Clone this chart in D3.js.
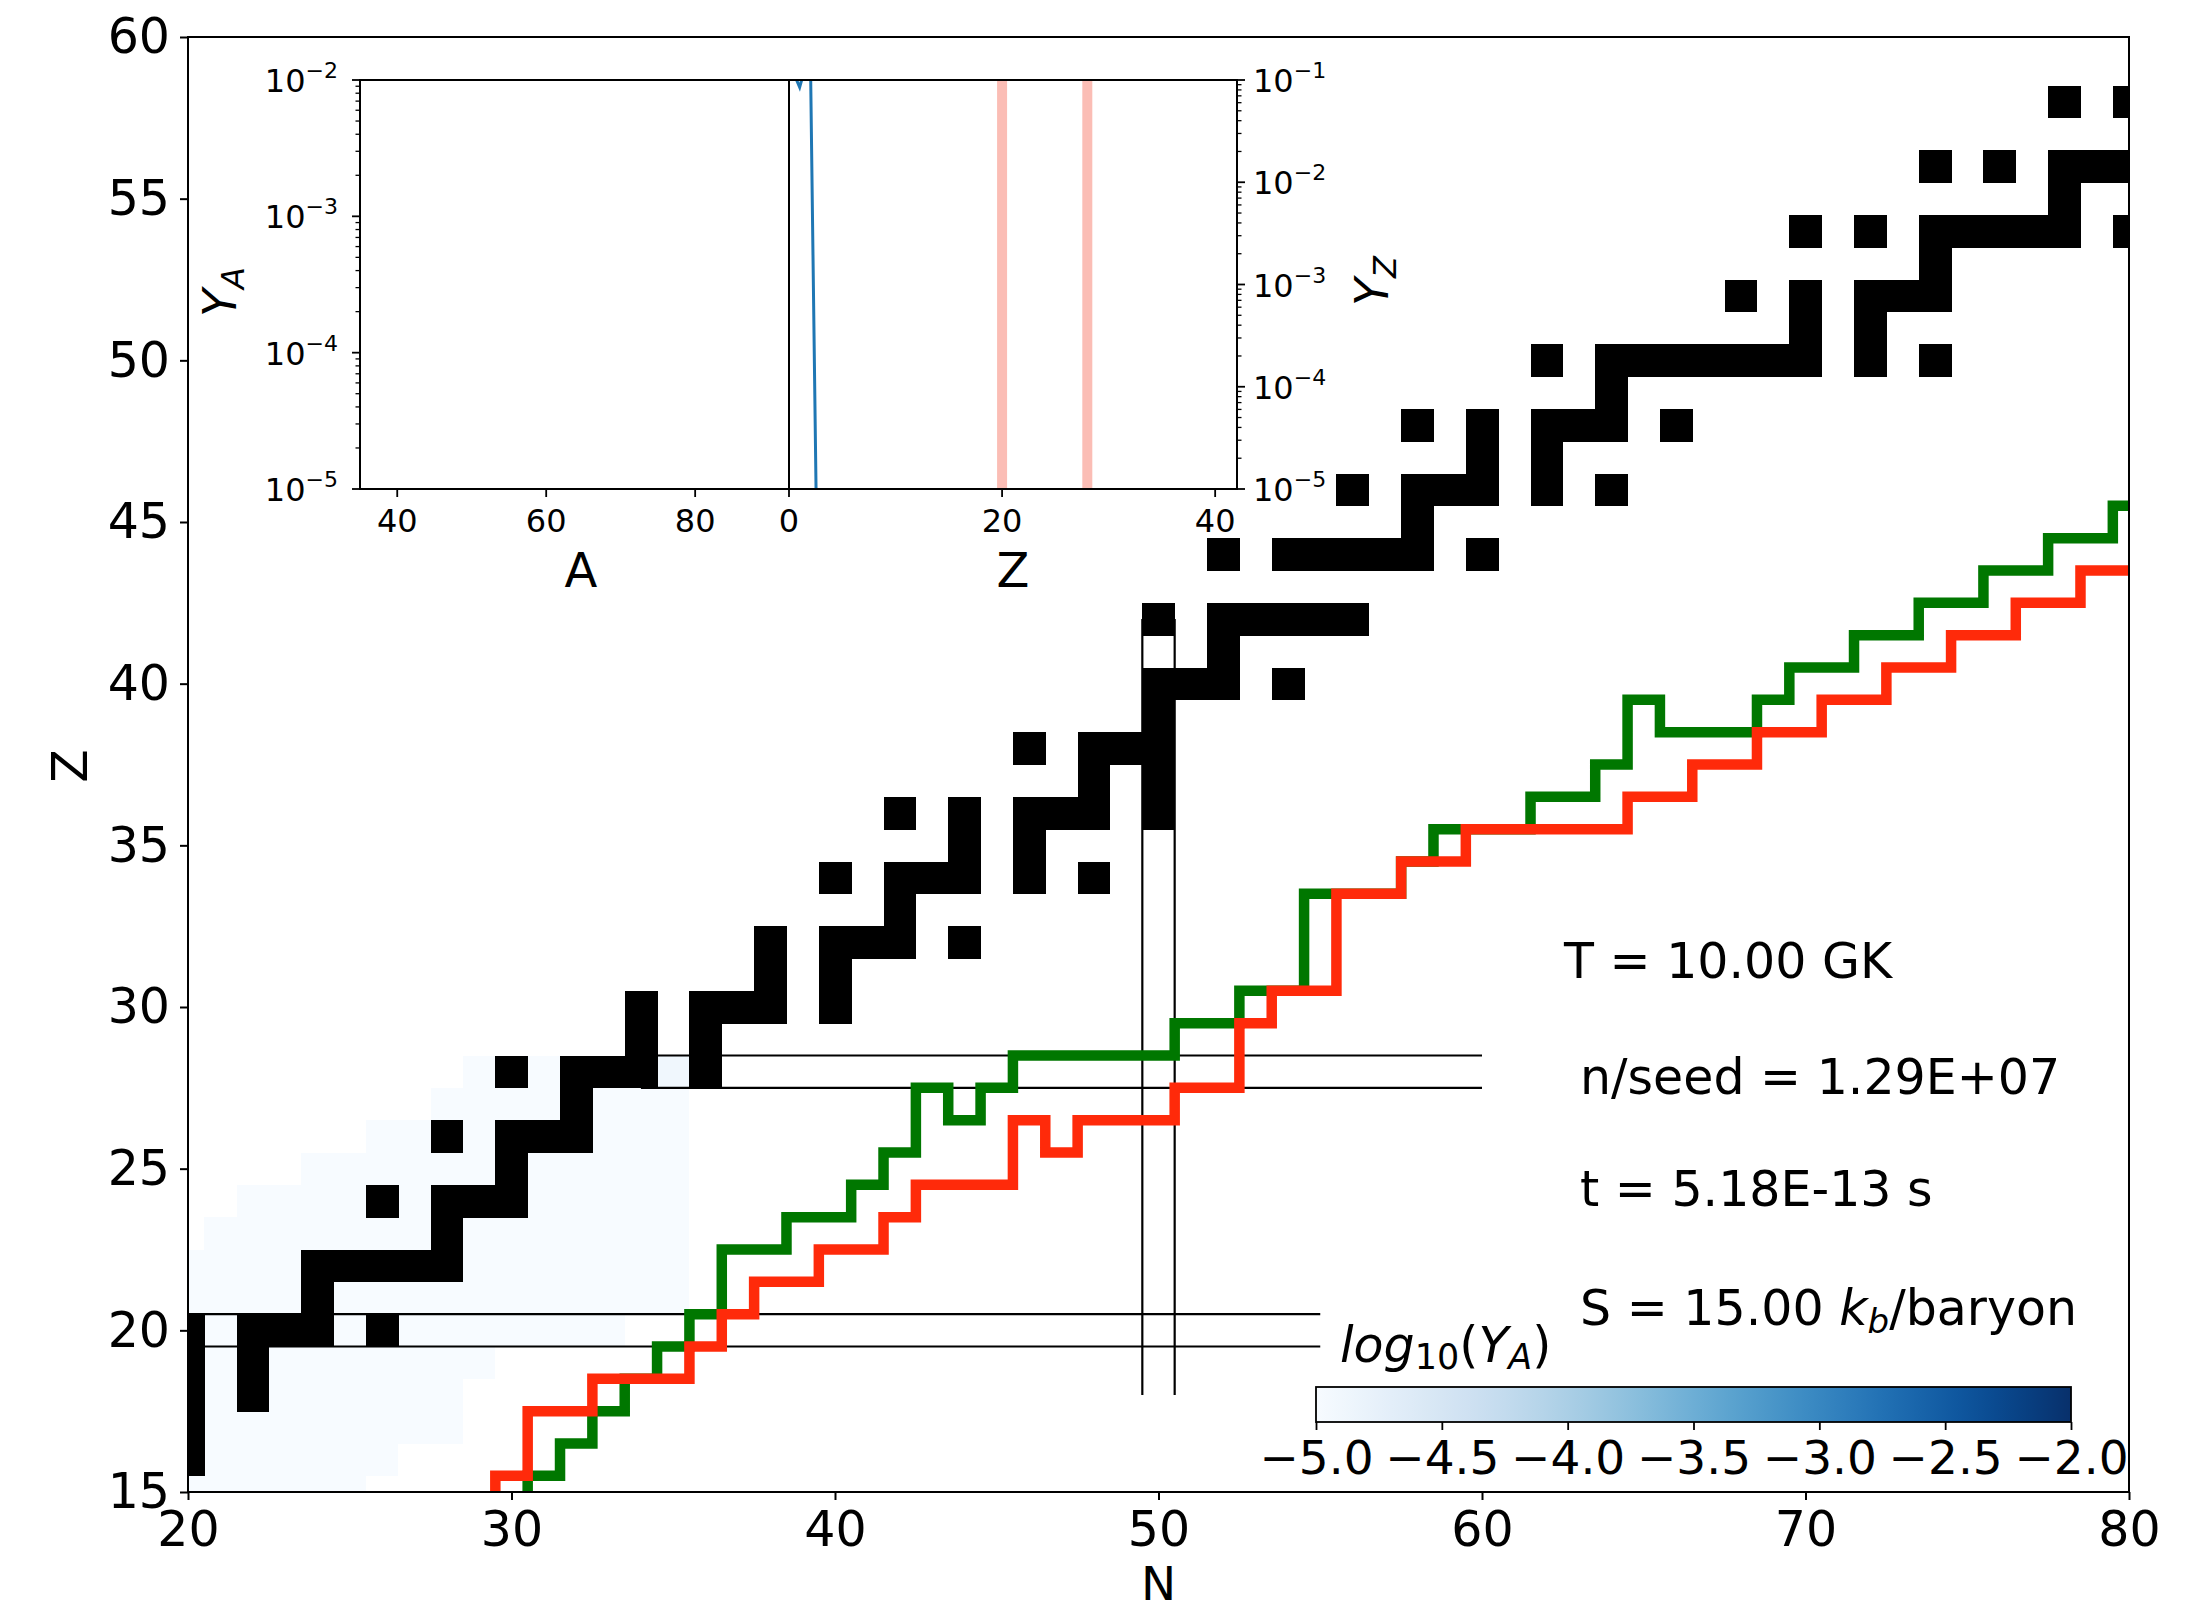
<!DOCTYPE html>
<html><head><meta charset="utf-8">
<script src="https://cdn.jsdelivr.net/npm/d3@7/dist/d3.min.js"></script>
<style>
body{margin:0;background:#fff}
svg{display:block}
text{font-family:"DejaVu Sans",sans-serif;fill:#000}
</style>
</head><body>
<svg id="c" width="2203" height="1612"></svg>
<script>
// ---------------- DATA ----------------
// stable nuclei (black squares): proton number Z and the neutron numbers N present
const stableZ = [16,17,18,19,20,21,22,23,24,25,26,27,28,29,30,31,32,33,34,35,36,37,38,39,40,41,42,44,45,46,47,48,49,50,51,52,53,54,55,56,58];
const stableN = [
  [20],[20],[20,22],[20,22],[20,22,23,24,26],[24],[24,25,26,27,28],[28],[26,28,29,30],[30],
  [28,30,31,32],[32],[30,32,33,34,36],[34,36],[34,36,37,38,40],[38,40],[38,40,41,42,44],[42],
  [40,42,43,44,46,48],[44,46],[42,44,46,47,48,50],[48,50],[46,48,49,50],[50],[50,51,52,54],[52],
  [50,52,53,54,55,56],[52,54,55,56,57,58,60],[58],[56,58,59,60,62,64],[60,62],[58,60,62,63,64,66],[64],
  [62,64,65,66,67,68,69,70,72,74],[70,72],[68,70,72,73,74],[74],[70,72,74,75,76,77,78,80],[78],
  [74,76,78,79,80],[78,80]
];
// faint abundance map log10(Y_A): rows of Z with N range
const heatZ  = [15,16,17,18,19,20,21,22,23,24,25,26,27,28,28];
const heatN0 = [20,20,20,20,20,20,20,20,21,22,24,26,28,29,35];
const heatN1 = [25,26,28,28,29,33,35,35,35,35,35,35,35,34,35];
const heatV  = [-5,-5,-5,-5,-5,-5,-5,-5,-5,-5,-5,-5,-5,-5,-4.9];
// green path (N, Z vertices)
const greenN = [30.5,30.5,31.5,31.5,32.5,32.5,33.5,33.5,34.5,34.5,35.5,35.5,36.5,36.5,38.5,38.5,40.5,40.5,41.5,41.5,42.5,42.5,43.5,43.5,44.5,44.5,45.5,45.5,50.5,50.5,52.5,52.5,54.5,54.5,57.5,57.5,58.5,58.5,61.5,61.5,63.5,63.5,64.5,64.5,65.5,65.5,68.5,68.5,69.5,69.5,71.5,71.5,73.5,73.5,75.5,75.5,77.5,77.5,79.5,79.5,80];
const greenZ = [15,15.5,15.5,16.5,16.5,17.5,17.5,18.5,18.5,19.5,19.5,20.5,20.5,22.5,22.5,23.5,23.5,24.5,24.5,25.5,25.5,27.5,27.5,26.5,26.5,27.5,27.5,28.5,28.5,29.5,29.5,30.5,30.5,33.5,33.5,34.5,34.5,35.5,35.5,36.5,36.5,37.5,37.5,39.5,39.5,38.5,38.5,39.5,39.5,40.5,40.5,41.5,41.5,42.5,42.5,43.5,43.5,44.5,44.5,45.5,45.5];
// red path
const redN = [29.5,29.5,30.5,30.5,32.5,32.5,35.5,35.5,36.5,36.5,37.5,37.5,39.5,39.5,41.5,41.5,42.5,42.5,45.5,45.5,46.5,46.5,47.5,47.5,50.5,50.5,52.5,52.5,53.5,53.5,55.5,55.5,57.5,57.5,59.5,59.5,64.5,64.5,66.5,66.5,68.5,68.5,70.5,70.5,72.5,72.5,74.5,74.5,76.5,76.5,78.5,78.5,80];
const redZ = [15,15.5,15.5,17.5,17.5,18.5,18.5,19.5,19.5,20.5,20.5,21.5,21.5,22.5,22.5,23.5,23.5,24.5,24.5,26.5,26.5,25.5,25.5,26.5,26.5,27.5,27.5,29.5,29.5,30.5,30.5,33.5,33.5,34.5,34.5,35.5,35.5,36.5,36.5,37.5,37.5,38.5,38.5,39.5,39.5,40.5,40.5,41.5,41.5,42.5,42.5,43.5,43.5];
// magic-number guide lines
const magicHZ  = [19.5,20.5,27.5,28.5];
const magicHN0 = [20,20,34,34];
const magicHN1 = [55,55,60,60];
const magicVN  = [49.5,50.5];
const magicVZ0 = [18,18];
const magicVZ1 = [42,42];
// inset: Y_Z vs Z
const insetZ  = [0,1,2,3,4];
const insetYZ = [0.15,0.085,0.2,2e-9,1e-12];
const insetBandsZ = [20,28];
// tick labels
const xTicks = [20,30,40,50,60,70,80];
const yTicks = [15,20,25,30,35,40,45,50,55,60];
const aTicks = [40,60,80];
const zTicks = [0,20,40];
const yaExp = [-2,-3,-4,-5];
const yzExp = [-1,-2,-3,-4,-5];
const cbTicks = [-5,-4.5,-4,-3.5,-3,-2.5,-2];
const infoText = ["T = 10.00 GK","n/seed = 1.29E+07","t = 5.18E-13 s"];

// ---------------- DRAW ----------------
const svg = d3.select('#c');
const defs = svg.append('defs');
const x = d3.scaleLinear().domain([20,80]).range([188,2129]);
const y = d3.scaleLinear().domain([15,60]).range([1492,37]);
const FS = 49;

defs.append('clipPath').attr('id','mainclip')
  .append('rect').attr('x',x(20)).attr('y',y(60)).attr('width',x(80)-x(20)).attr('height',y(15)-y(60));

const plot = svg.append('g').attr('clip-path','url(#mainclip)');
const blues = d3.scaleLinear().domain([-5,-2]).range([0,1]);

// heat map
plot.append('g').selectAll('rect').data(heatZ.map((z,i)=>({z,n0:heatN0[i],n1:heatN1[i],v:heatV[i]})))
  .join('rect')
  .attr('x',d=>x(d.n0-0.5)).attr('width',d=>x(d.n1+0.5)-x(d.n0-0.5))
  .attr('y',d=>y(d.z+0.5)).attr('height',d=>y(d.z-0.5)-y(d.z+0.5))
  .attr('fill',d=>d3.interpolateBlues(blues(d.v)))
  .attr('shape-rendering','crispEdges');

// stable cells
const cells = [];
stableZ.forEach((z,i)=>stableN[i].forEach(n=>cells.push({z,n})));
plot.append('g').selectAll('rect').data(cells).join('rect')
  .attr('x',d=>x(d.n-0.5)).attr('width',d=>x(d.n+0.5)-x(d.n-0.5)+0.5)
  .attr('y',d=>y(d.z+0.5)).attr('height',d=>y(d.z-0.5)-y(d.z+0.5)+0.5)
  .attr('fill','#000').attr('shape-rendering','crispEdges');

// magic lines
const ml = plot.append('g').attr('stroke','#000').attr('stroke-width',2.2);
magicHZ.forEach((z,i)=>ml.append('line').attr('x1',x(magicHN0[i])).attr('x2',x(magicHN1[i])).attr('y1',y(z)).attr('y2',y(z)));
magicVN.forEach((n,i)=>ml.append('line').attr('x1',x(n)).attr('x2',x(n)).attr('y1',y(magicVZ0[i])).attr('y2',y(magicVZ1[i])));

// paths
const line = d3.line().x(d=>x(d[0])).y(d=>y(d[1]));
plot.append('path').attr('d',line(greenN.map((n,i)=>[n,greenZ[i]])))
  .attr('fill','none').attr('stroke','#007700').attr('stroke-width',10.5).attr('stroke-linejoin','miter').attr('stroke-linecap','square');
plot.append('path').attr('d',line(redN.map((n,i)=>[n,redZ[i]])))
  .attr('fill','none').attr('stroke','#ff2a0a').attr('stroke-width',10.5).attr('stroke-linejoin','miter').attr('stroke-linecap','square');

// frame
svg.append('rect').attr('x',x(20)).attr('y',y(60)).attr('width',x(80)-x(20)).attr('height',y(15)-y(60))
  .attr('fill','none').attr('stroke','#000').attr('stroke-width',2);

// main axes
const ax = svg.append('g').attr('transform',`translate(0,${y(15)})`)
  .call(d3.axisBottom(x).tickValues(xTicks).tickFormat(d3.format('d')).tickSize(8).tickSizeOuter(0).tickPadding(11));
const ay = svg.append('g').attr('transform',`translate(${x(20)},0)`)
  .call(d3.axisLeft(y).tickValues(yTicks).tickFormat(d3.format('d')).tickSize(8).tickSizeOuter(0).tickPadding(10));
[ax,ay].forEach(g=>{
  g.select('.domain').remove();
  g.selectAll('line').attr('stroke','#000').attr('stroke-width',2);
  g.selectAll('text').attr('font-size',FS).attr('font-family','DejaVu Sans').attr('fill','#000');
});
svg.append('text').attr('x',x(50)).attr('y',1600).attr('text-anchor','middle').attr('font-size',FS-2).text('N');
svg.append('text').attr('transform','translate(87,766) rotate(-90)').attr('text-anchor','middle').attr('font-size',FS).text('Z');

// ---------------- INSET ----------------
const iL=360, iM=789, iR=1237, iT=80, iB=489;
const xa = d3.scaleLinear().domain([35,92.6]).range([iL,iM]);
const xz = d3.scaleLinear().domain([0,42.05]).range([iM,iR]);
const ya = d3.scaleLog().domain([1e-5,1e-2]).range([iB,iT]);
const yz = d3.scaleLog().domain([1e-5,1e-1]).range([iB,iT]);
const inset = svg.append('g');
inset.append('rect').attr('x',iL).attr('y',iT).attr('width',iR-iL).attr('height',iB-iT).attr('fill','#fff');
defs.append('clipPath').attr('id','zclip')
  .append('rect').attr('x',iM).attr('y',iT).attr('width',iR-iM).attr('height',iB-iT);
const zg = inset.append('g').attr('clip-path','url(#zclip)');
insetBandsZ.forEach(z=>zg.append('line').attr('x1',xz(z)).attr('x2',xz(z)).attr('y1',iT).attr('y2',iB)
  .attr('stroke','#fbbdb5').attr('stroke-width',10));
zg.append('path').attr('d',d3.line().x(d=>xz(d[0])).y(d=>yz(d[1]))(insetZ.map((z,i)=>[z,insetYZ[i]])))
  .attr('fill','none').attr('stroke','#1f77b4').attr('stroke-width',3);
inset.append('rect').attr('x',iL).attr('y',iT).attr('width',iR-iL).attr('height',iB-iT)
  .attr('fill','none').attr('stroke','#000').attr('stroke-width',2);
inset.append('line').attr('x1',iM).attr('x2',iM).attr('y1',iT).attr('y2',iB).attr('stroke','#000').attr('stroke-width',2);

const IFS = 32;
aTicks.forEach(a=>{
  inset.append('line').attr('x1',xa(a)).attr('x2',xa(a)).attr('y1',iB).attr('y2',iB+8).attr('stroke','#000').attr('stroke-width',1.8);
  inset.append('text').attr('x',xa(a)).attr('y',iB+43).attr('text-anchor','middle').attr('font-size',IFS).text(a);
});
zTicks.forEach(z=>{
  inset.append('line').attr('x1',xz(z)).attr('x2',xz(z)).attr('y1',iB).attr('y2',iB+8).attr('stroke','#000').attr('stroke-width',1.8);
  inset.append('text').attr('x',xz(z)).attr('y',iB+43).attr('text-anchor','middle').attr('font-size',IFS).text(z);
});
inset.append('text').attr('x',581).attr('y',587).attr('text-anchor','middle').attr('font-size',FS-1).text('A');
inset.append('text').attr('x',(iM+iR)/2).attr('y',587).attr('text-anchor','middle').attr('font-size',FS-1).text('Z');

function powLabel(g, xx, yy, e, anchor){
  const t = g.append('text').attr('x',xx).attr('y',yy).attr('text-anchor',anchor).attr('font-size',IFS);
  t.append('tspan').text('10');
  t.append('tspan').attr('font-size',22).attr('dy',-14).text('\u2212'+Math.abs(e));
}
yaExp.forEach(e=>{
  const v=Math.pow(10,e);
  inset.append('line').attr('x1',iL-8).attr('x2',iL).attr('y1',ya(v)).attr('y2',ya(v)).attr('stroke','#000').attr('stroke-width',1.8);
  powLabel(inset, iL-22, ya(v)+12, e, 'end');
});
[-5,-4,-3].forEach(e=>{for(let m=2;m<=9;m++){const v=m*Math.pow(10,e);
  inset.append('line').attr('x1',iL-4.5).attr('x2',iL).attr('y1',ya(v)).attr('y2',ya(v)).attr('stroke','#000').attr('stroke-width',1.3);}});
yzExp.forEach(e=>{
  const v=Math.pow(10,e);
  inset.append('line').attr('x1',iR).attr('x2',iR+8).attr('y1',yz(v)).attr('y2',yz(v)).attr('stroke','#000').attr('stroke-width',1.8);
  powLabel(inset, iR+16, yz(v)+12, e, 'start');
});
[-5,-4,-3,-2].forEach(e=>{for(let m=2;m<=9;m++){const v=m*Math.pow(10,e);
  inset.append('line').attr('x1',iR).attr('x2',iR+4.5).attr('y1',yz(v)).attr('y2',yz(v)).attr('stroke','#000').attr('stroke-width',1.3);}});
function yLabel(xx,yy,sub){
  const t = svg.append('text').attr('transform',`translate(${xx},${yy}) rotate(-90)`).attr('text-anchor','middle').attr('font-size',46);
  t.append('tspan').attr('font-style','italic').text('Y');
  t.append('tspan').attr('font-style','italic').attr('font-size',32).attr('dy',8).text(sub);
}
yLabel(236,292,'A');
yLabel(1388,281,'Z');

// ---------------- COLORBAR ----------------
const cb = d3.scaleLinear().domain([-5,-2]).range([1316,2071]);
const lg = defs.append('linearGradient').attr('id','cbg').attr('x1','0%').attr('x2','100%').attr('y1','0%').attr('y2','0%');
d3.range(0,1.0001,0.05).forEach(t=>lg.append('stop').attr('offset',(t*100)+'%').attr('stop-color',d3.interpolateBlues(t)));
svg.append('rect').attr('x',cb(-5)).attr('y',1387).attr('width',cb(-2)-cb(-5)).attr('height',35)
  .attr('fill','url(#cbg)').attr('stroke','#000').attr('stroke-width',1.8);
const cax = svg.append('g').attr('transform','translate(0,1422)')
  .call(d3.axisBottom(cb).tickValues(cbTicks).tickFormat(d3.format('.1f')).tickSize(8).tickSizeOuter(0).tickPadding(11));
cax.select('.domain').remove();
cax.selectAll('line').attr('stroke','#000').attr('stroke-width',1.8);
cax.selectAll('text').attr('font-size',47).attr('font-family','DejaVu Sans').attr('fill','#000');
const cl = svg.append('text').attr('x',1340).attr('y',1362).attr('font-size',49);
cl.append('tspan').attr('font-style','italic').text('log');
cl.append('tspan').attr('font-size',35).attr('dy',7).text('10');
cl.append('tspan').attr('dy',-7).text('(');
cl.append('tspan').attr('font-style','italic').text('Y');
cl.append('tspan').attr('font-style','italic').attr('font-size',35).attr('dy',7).text('A');
cl.append('tspan').attr('dy',-7).text(')');

// ---------------- ANNOTATIONS ----------------
const infoX = [1564,1580,1580];
const infoY = [978,1094,1206];
infoText.forEach((s,i)=>svg.append('text').attr('x',infoX[i]).attr('y',infoY[i]).attr('font-size',FS).text(s));
const st = svg.append('text').attr('x',1580).attr('y',1325).attr('font-size',FS);
st.append('tspan').text('S = 15.00 ');
st.append('tspan').attr('font-style','italic').text('k');
st.append('tspan').attr('font-style','italic').attr('font-size',34).attr('dy',8).text('b');
st.append('tspan').attr('dy',-8).text('/baryon');
</script>
</body></html>
